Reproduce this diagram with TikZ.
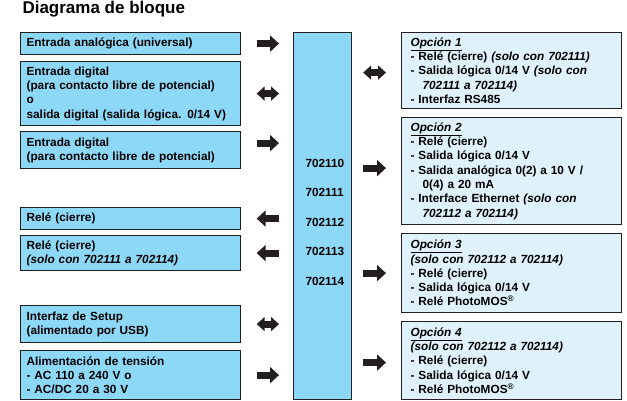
\documentclass[tikz,border=0pt]{standalone}
\usepackage{fontspec}
\setmainfont{Liberation Sans}
\usetikzlibrary{arrows.meta}

\definecolor{boxblue}{RGB}{142,216,247}
\definecolor{optblue}{RGB}{223,242,252}
\definecolor{ink}{RGB}{35,31,32}

\begin{document}
\begin{tikzpicture}[
  x=1pt,y=-1pt,
  font=\fontsize{11.8}{14.3}\selectfont\bfseries,
  >={Triangle[length=9pt,width=16pt]},
  inbox/.style={draw=ink,line width=1.2pt,fill=boxblue,anchor=north west,minimum width=220pt,
    text width=208pt,inner xsep=6pt,inner ysep=3pt,align=left},
  optbox/.style={inbox,fill=optblue,text width=202pt,inner xsep=9pt},
  flow/.style={draw=ink,line width=7pt,shorten <=15.5pt,shorten >=14pt},
  rflow/.style={draw=ink,line width=7pt,shorten <=11pt,shorten >=15pt}
]
  \useasboundingbox (0,0) rectangle (627,400);
  \node[anchor=base west,font=\fontsize{17}{20}\selectfont\bfseries] (title) at (19,13) {Diagrama de bloque};

  % inputs and outputs
  \node[inbox,minimum height=22pt] (b1) at (20,32) {Entrada analógica (universal)};
  \node[inbox,minimum height=64pt] (b2) at (20,61) {Entrada digital\\(para contacto libre de potencial)\\o\\salida digital (salida lógica. 0/14 V)};
  \node[inbox,minimum height=37pt] (b3) at (20,131) {Entrada digital\\(para contacto libre de potencial)};
  \node[inbox,minimum height=22pt] (b4) at (20,207) {Relé (cierre)};
  \node[inbox,minimum height=35pt] (b5) at (20,235) {Relé (cierre)\\\textit{(solo con 702111 a 702114)}};
  \node[inbox,minimum height=37pt] (b6) at (20,305) {Interfaz de Setup\\(alimentado por USB)};
  \node[inbox,minimum height=49pt] (b7) at (20,350) {Alimentación de tensión\\- AC 110 a 240 V o\\- AC/DC 20 a 30 V};

  % device
  \node[draw=ink,line width=1.2pt,fill=boxblue,anchor=north west,minimum width=58pt,minimum height=367pt] (ctr) at (293,32) {};
  \foreach \m [count=\i] in {702110,702111,702112,702113,702114}
    \node[anchor=base west] (m\i) at (302,{167.5+29.4*(\i-1)}) {\m};

  % options
  \node[optbox,minimum height=76pt] (o1) at (401,32) {\underline{\textit{Opción 1}}\\- Relé (cierre) \textit{(solo con 702111)}\\- Salida lógica 0/14 V \textit{(solo con}\\\hspace*{12pt}\textit{702111 a 702114)}\\- Interfaz RS485};
  \node[optbox,minimum height=107pt] (o2) at (401,117) {\underline{\textit{Opción 2}}\\- Relé (cierre)\\- Salida lógica 0/14 V\\- Salida analógica 0(2) a 10 V /\\\hspace*{12pt}0(4) a 20 mA\\- Interface Ethernet \textit{(solo con}\\\hspace*{12pt}\textit{702112 a 702114)}};
  \node[optbox,minimum height=79pt] (o3) at (401,233) {\underline{\textit{Opción 3}}\\\textit{(solo con 702112 a 702114)}\\- Relé (cierre)\\- Salida lógica 0/14 V\\- Relé PhotoMOS\textsuperscript{®}};
  \node[optbox,minimum height=78pt] (o4) at (401,321) {\underline{\textit{Opción 4}}\\\textit{(solo con 702112 a 702114)}\\- Relé (cierre)\\- Salida lógica 0/14 V\\- Relé PhotoMOS\textsuperscript{®}};

  % arrow ends that sit off the box middles
  \coordinate (b3e) at ([yshift=7pt]b3.east);
  \coordinate (o1w) at ([yshift=-2pt]o1.west);
  \coordinate (o2w) at ([yshift=3pt]o2.west);
  \coordinate (o4w) at ([yshift=-2pt]o4.west);

  % arrows
  \draw[flow,->] (b1.east) -- (ctr.west |- b1.east);
  \draw[flow,<->,>={Triangle[length=8pt,width=14pt]}] (b2.east) -- (ctr.west |- b2.east);
  \draw[flow,->] (b3e) -- (ctr.west |- b3e);
  \draw[flow,<-] (b4.east) -- (ctr.west |- b4.east);
  \draw[flow,<-] (b5.east) -- (ctr.west |- b5.east);
  \draw[flow,<->,>={Triangle[length=8pt,width=14pt]}] (b6.east) -- (ctr.west |- b6.east);
  \draw[flow,->] (b7.east) -- (ctr.west |- b7.east);
  \draw[rflow,<->,>={Triangle[length=8pt,width=14pt]}] (ctr.east |- o1w) -- (o1w);
  \draw[rflow,->] (ctr.east |- o2w) -- (o2w);
  \draw[rflow,->] (ctr.east |- o3.west) -- (o3.west);
  \draw[rflow,->] (ctr.east |- o4w) -- (o4w);
\end{tikzpicture}
\end{document}
